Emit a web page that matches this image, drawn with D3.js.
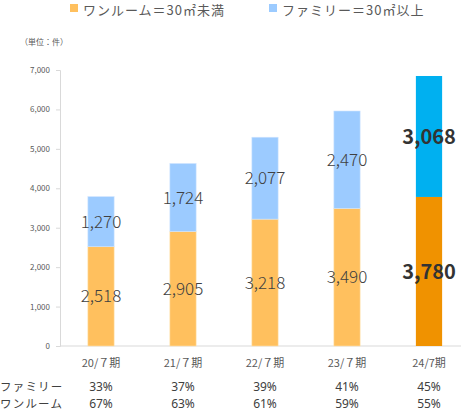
<!DOCTYPE html>
<html>
<head>
<meta charset="utf-8">
<script src="https://cdn.jsdelivr.net/npm/d3@7"></script>
<style>
  body { margin: 0; background: #fff; }
  text { font-family: "Noto Sans CJK JP", "Noto Sans", sans-serif; }
</style>
</head>
<body>
<div id="chart"></div>
<script>
var width  = 461;
var height = 414;

// data
var periods   = ["20/７期", "21/７期", "22/７期", "23/７期", "24/7期"];
var oneRoom   = [2518, 2905, 3218, 3490, 3780];
var family    = [1270, 1724, 2077, 2470, 3068];
var famShare  = ["33%", "37%", "39%", "41%", "45%"];
var oneShare  = ["67%", "63%", "61%", "59%", "55%"];
var yTicks    = [0, 1000, 2000, 3000, 4000, 5000, 6000, 7000];
var legendNames = ["ワンルーム＝30㎡未満", "ファミリー＝30㎡以上"];

var colOne = "#ffc05e", colFam = "#9ccbff";
var colOneHi = "#f09200", colFamHi = "#00b0f0";

var svg = d3.select("#chart").append("svg")
    .attr("width", width)
    .attr("height", height);

var x = d3.scaleBand()
    .domain(periods)
    .range([60, 470])
    .paddingInner(0.68)
    .paddingOuter(0.34);

var y = d3.scaleLinear()
    .domain([0, 7000])
    .range([346, 70]);

// y axis
var yAxis = d3.axisLeft(y)
    .tickValues(yTicks)
    .tickSize(4)
    .tickPadding(6)
    .tickFormat(d3.format(","));
var ya = svg.append("g").attr("transform", "translate(60,0)").call(yAxis);
ya.select(".domain").attr("stroke", "#d9d9d9");
ya.selectAll(".tick line").attr("stroke", "#d9d9d9");
ya.selectAll(".tick text")
    .attr("fill", "#595959")
    .style("font-size", "8px");

// baseline
svg.append("line")
    .attr("x1", 60).attr("x2", width)
    .attr("y1", y(0)).attr("y2", y(0))
    .attr("stroke", "#d9d9d9");

// stacked bars
var rows = periods.map(function(p, i) {
    return {p: p, one: oneRoom[i], fam: family[i], last: i === periods.length - 1};
});

var g = svg.append("g");
g.selectAll("rect.one")
    .data(rows).enter().append("rect")
    .attr("class", "one")
    .attr("x", function(d) { return x(d.p); })
    .attr("width", x.bandwidth())
    .attr("y", function(d) { return y(d.one); })
    .attr("height", function(d) { return y(0) - y(d.one); })
    .attr("fill", function(d) { return d.last ? colOneHi : colOne; })
    .attr("stroke", function(d) { return d.last ? "none" : "#ffe2b0"; })
    .attr("stroke-width", 0.6);

g.selectAll("rect.fam")
    .data(rows).enter().append("rect")
    .attr("class", "fam")
    .attr("x", function(d) { return x(d.p); })
    .attr("width", x.bandwidth())
    .attr("y", function(d) { return y(d.one + d.fam); })
    .attr("height", function(d) { return y(d.one) - y(d.one + d.fam); })
    .attr("fill", function(d) { return d.last ? colFamHi : colFam; })
    .attr("stroke", function(d) { return d.last ? "none" : "#cfe5ff"; })
    .attr("stroke-width", 0.6);

// value labels, centred in each segment
var fmt = d3.format(",");
function addLabels(cls, val, mid) {
    g.selectAll("text." + cls)
        .data(rows).enter().append("text")
        .attr("class", cls)
        .attr("x", function(d) { return x(d.p) + x.bandwidth() / 2; })
        .attr("y", function(d) { return y(mid(d)); })
        .attr("dy", "0.36em")
        .attr("text-anchor", "middle")
        .attr("fill", function(d) { return d.last ? "#333" : "#404040"; })
        .style("font-size", function(d) { return d.last ? "20px" : "17px"; })
        .style("font-weight", function(d) { return d.last ? "700" : "300"; })
        .text(function(d) { return fmt(val(d)); });
}
addLabels("lone", function(d) { return d.one; }, function(d) { return d.one / 2; });
addLabels("lfam", function(d) { return d.fam; }, function(d) { return d.one + d.fam / 2; });

// category labels
svg.selectAll("text.cat")
    .data(periods).enter().append("text")
    .attr("class", "cat")
    .attr("x", function(d) { return x(d) + x.bandwidth() / 2; })
    .attr("y", 367)
    .attr("text-anchor", "middle")
    .attr("fill", "#595959")
    .style("font-size", "11px")
    .text(function(d) { return d; });

// share rows
var shareRows = [["ファミリー", famShare, 391], ["ワンルーム", oneShare, 408]];
shareRows.forEach(function(r) {
    svg.append("text")
        .attr("x", 0).attr("y", r[2])
        .attr("fill", "#404040")
        .style("font-size", "11.5px")
        .style("letter-spacing", "1.2px")
        .text(r[0]);
    svg.selectAll(null)
        .data(r[1]).enter().append("text")
        .attr("x", function(d, i) { return x(periods[i]) + x.bandwidth() / 2; })
        .attr("y", r[2])
        .attr("text-anchor", "middle")
        .attr("fill", "#404040")
        .style("font-size", "12px")
        .style("font-family", "'Noto Sans', sans-serif")
        .text(function(d) { return d; });
});

// unit note
svg.append("text")
    .attr("x", 20).attr("y", 45)
    .attr("fill", "#595959")
    .style("font-size", "8px")
    .text("（単位：件）");

// legend
var legX = [70, 269];
legendNames.forEach(function(name, i) {
    svg.append("rect")
        .attr("x", legX[i]).attr("y", 4)
        .attr("width", 8).attr("height", 8)
        .attr("fill", i === 0 ? colOne : colFam);
    svg.append("text")
        .attr("x", legX[i] + 13).attr("y", 15)
        .attr("fill", "#595959")
        .style("font-size", "13px")
        .style("letter-spacing", "1px")
        .text(name);
});
</script>
</body>
</html>
